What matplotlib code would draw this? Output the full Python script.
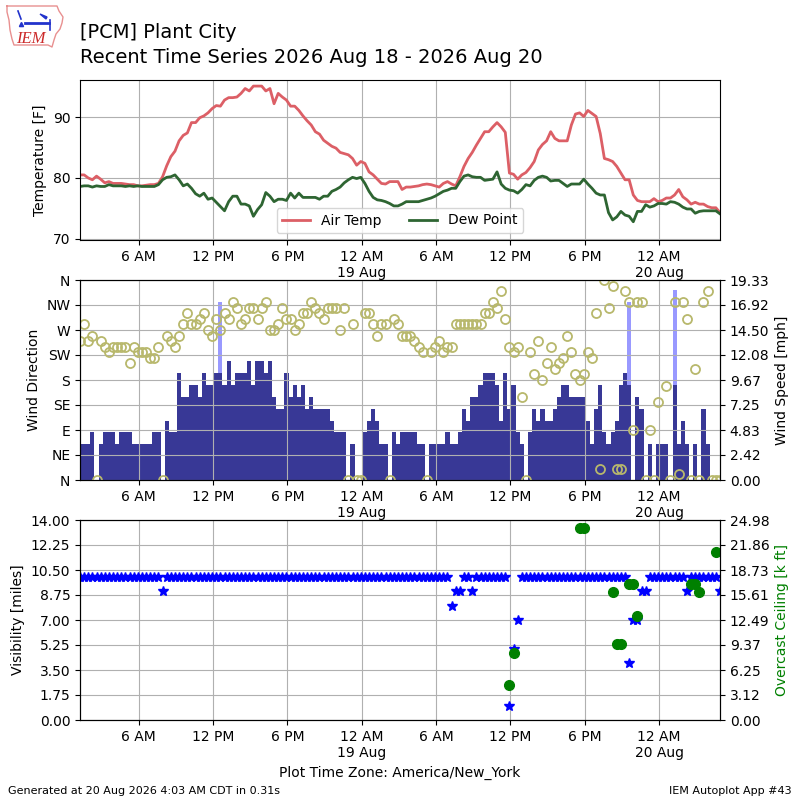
import numpy as np
import pandas as pd
import matplotlib
matplotlib.use("Agg")
import matplotlib.pyplot as plt
import matplotlib.dates as mdates

# observations every 20 minutes, 18 Aug 01:15 -> 20 Aug 04:55 (America/New_York)
obs_times = pd.date_range("2026-08-18 01:15", "2026-08-20 04:55", freq="20min")

air_temp = [
    80.5, 80.5, 80.0, 79.7, 80.3, 79.8, 79.2, 79.4, 79.1, 79.1,
    79.1, 79.0, 78.9, 78.9, 78.7, 78.7, 78.8, 78.9, 78.9, 79.1,
    80.2, 82.0, 83.5, 84.4, 86.1, 87.0, 87.4, 89.1, 89.1, 89.9,
    90.2, 90.7, 91.4, 91.9, 91.8, 92.8, 93.2, 93.2, 93.3, 93.9,
    94.7, 94.3, 95.1, 95.1, 95.1, 94.3, 94.7, 92.2, 93.9, 93.3,
    92.8, 91.8, 91.8, 91.1, 90.2, 89.4, 88.7, 87.6, 87.2, 86.2,
    85.7, 85.2, 84.9, 84.2, 84.0, 83.8, 83.2, 82.1, 82.7, 82.4,
    81.0, 80.5, 79.8, 79.1, 79.0, 79.4, 79.4, 79.4, 78.1, 78.5,
    78.5, 78.6, 78.7, 78.9, 79.0, 78.9, 78.7, 78.5, 79.1, 79.4,
    79.0, 78.7, 80.2, 81.9, 83.2, 84.2, 85.4, 86.5, 87.6, 87.6,
    88.4, 89.1, 88.4, 87.5, 80.8, 80.6, 79.8, 80.5, 80.9, 81.7,
    82.7, 84.6, 85.5, 86.1, 87.6, 86.5, 86.1, 86.1, 86.1, 88.7,
    90.5, 90.7, 90.1, 91.1, 90.6, 90.1, 87.3, 83.2, 83.0, 82.7,
    81.9, 80.8, 79.7, 79.7, 77.2, 76.3, 76.1, 76.1, 76.1, 76.6,
    76.1, 76.3, 76.7, 76.7, 77.2, 78.1, 76.9, 76.4, 75.7, 76.0,
    75.7, 75.7, 75.3, 75.1, 75.1, 74.3,
]
dew_point = [
    78.6, 78.7, 78.7, 78.5, 78.7, 78.6, 78.6, 78.9, 78.7, 78.7,
    78.7, 78.6, 78.7, 78.6, 78.7, 78.6, 78.6, 78.6, 78.6, 78.9,
    79.7, 80.1, 80.2, 80.5, 79.7, 78.7, 79.0, 78.3, 77.4, 77.0,
    77.5, 76.5, 76.7, 76.0, 75.3, 74.6, 76.1, 77.0, 77.0, 75.7,
    75.7, 75.4, 73.7, 74.8, 75.6, 77.6, 77.0, 76.1, 76.5, 76.5,
    76.3, 77.5, 76.7, 77.5, 76.8, 76.8, 76.8, 76.8, 76.5, 77.0,
    77.0, 77.8, 78.1, 78.5, 79.2, 79.7, 80.1, 79.9, 80.1, 79.1,
    77.8, 76.8, 76.4, 76.3, 76.1, 75.8, 75.4, 75.4, 75.7, 76.1,
    76.1, 76.1, 76.1, 76.3, 76.5, 76.7, 77.0, 77.4, 77.8, 78.0,
    78.3, 78.3, 79.4, 80.3, 80.5, 80.2, 80.1, 80.1, 79.6, 79.7,
    79.8, 81.0, 79.0, 78.3, 78.0, 77.9, 77.5, 78.1, 78.9, 78.7,
    79.6, 80.1, 80.3, 80.1, 79.5, 79.6, 79.6, 79.1, 78.6, 79.0,
    79.0, 79.0, 79.8, 79.0, 78.3, 77.5, 77.2, 77.2, 74.3, 73.1,
    73.6, 74.5, 73.9, 73.7, 72.8, 74.5, 74.5, 75.6, 75.2, 75.4,
    75.8, 75.8, 75.7, 76.1, 76.0, 75.7, 75.2, 74.9, 74.9, 74.2,
    74.5, 74.6, 74.6, 74.6, 74.6, 74.1,
]

# wind direction [deg], 0 = calm
wind_dir = [
    250, 280, 250, 260, 0, 250, 240, 230, 240, 240,
    240, 240, 210, 240, 230, 230, 230, 220, 220, 240,
    0, 260, 250, 240, 260, 280, 300, 280, 280, 290,
    300, 270, 260, 290, 270, 300, 290, 320, 310, 280,
    290, 310, 310, 290, 310, 320, 270, 270, 280, 310,
    290, 290, 270, 280, 300, 300, 320, 310, 300, 290,
    310, 310, 310, 270, 310, 0, 280, 0, 0, 300,
    300, 280, 260, 280, 280, 0, 290, 280, 260, 260,
    260, 250, 240, 230, 0, 230, 240, 250, 230, 240,
    240, 280, 280, 280, 280, 280, 280, 280, 300, 300,
    320, 310, 340, 290, 240, 230, 240, 150, 0, 230,
    190, 250, 180, 210, 240, 200, 210, 220, 260, 230,
    190, 180, 190, 230, 220, 300, 20, 360, 310, 350,
    20, 20, 340, 320, 90, 320, 320, 0, 90, 0,
    140, np.nan, 170, 0, 320, 10, 320, 290, 0, 200,
    0, 320, 340, 0, 0, 0,
]
# wind speed [knots]
wind_kt = [
    3, 3, 3, 4, 0, 3, 4, 4, 4, 3,
    4, 4, 4, 3, 3, 3, 3, 3, 4, 4,
    0, 5, 4, 4, 9, 7, 7, 8, 8, 7,
    9, 8, 8, 9, 9, 8, 10, 8, 9, 9,
    9, 10, 8, 10, 10, 9, 10, 7, 6, 6,
    9, 7, 8, 7, 8, 6, 7, 6, 6, 6,
    6, 5, 4, 4, 4, 0, 3, 0, 0, 4,
    5, 6, 5, 3, 3, 0, 4, 3, 4, 4,
    4, 4, 3, 3, 0, 3, 3, 3, 3, 4,
    3, 3, 4, 6, 5, 7, 7, 8, 9, 9,
    9, 8, 5, 9, 6, 8, 4, 3, 0, 4,
    6, 5, 6, 5, 5, 6, 7, 8, 8, 7,
    7, 7, 7, 5, 3, 6, 8, 4, 3, 4,
    5, 8, 9, 8, 0, 7, 6, 0, 3, 0,
    3, 3, 3, 0, 8, 3, 5, 3, 0, 3,
    0, 6, 3, 0, 0, 0,
]
gust_times = ["2026-08-18 12:35", "2026-08-19 21:35", "2026-08-20 01:15"]
gust_kt = [15, 15, 16]

visibility = [
    10, 10, 10, 10, 10, 10, 10, 10, 10, 10,
    10, 10, 10, 10, 10, 10, 10, 10, 10, 10,
    9, 10, 10, 10, 10, 10, 10, 10, 10, 10,
    10, 10, 10, 10, 10, 10, 10, 10, 10, 10,
    10, 10, 10, 10, 10, 10, 10, 10, 10, 10,
    10, 10, 10, 10, 10, 10, 10, 10, 10, 10,
    10, 10, 10, 10, 10, 10, 10, 10, 10, 10,
    10, 10, 10, 10, 10, 10, 10, 10, 10, 10,
    10, 10, 10, 10, 10, 10, 10, 10, 10, 10,
    8, 9, 9, 10, 10, 9, 10, 10, 10, 10,
    10, 10, 10, 10, 1, 5, 7, 10, 10, 10,
    10, 10, 10, 10, 10, 10, 10, 10, 10, 10,
    10, 10, 10, 10, 10, 10, 10, 10, 10, 10,
    10, 10, 10, 4, 7, 7, 9, 9, 10, 10,
    10, 10, 10, 10, 10, 10, 10, 9, 10, 10,
    10, 10, 10, 10, 10, 9,
]
ceiling_times = ["2026-08-19 11:55", "2026-08-19 12:15", "2026-08-19 17:35",
                 "2026-08-19 17:55", "2026-08-19 20:15", "2026-08-19 20:35",
                 "2026-08-19 20:55", "2026-08-19 21:35", "2026-08-19 21:55",
                 "2026-08-19 22:15", "2026-08-20 02:35", "2026-08-20 02:55",
                 "2026-08-20 03:15", "2026-08-20 04:35"]
ceiling_kft = [4.4, 8.4, 24.0, 24.0, 16.0, 9.5, 9.5, 17.0, 17.0, 13.0,
               17.0, 17.0, 16.0, 21.0]

tick_times = pd.date_range("2026-08-18 06:00", "2026-08-20 00:00", freq="6h")
tick_labels = ["6 AM", "12 PM", "6 PM", "12 AM\n19 Aug",
               "6 AM", "12 PM", "6 PM", "12 AM\n20 Aug"]
dir_labels = ["N", "NE", "E", "SE", "S", "SW", "W", "NW", "N"]

x = mdates.date2num(obs_times.to_pydatetime())
xg = mdates.date2num(pd.to_datetime(gust_times).to_pydatetime())
xc = mdates.date2num(pd.to_datetime(ceiling_times).to_pydatetime())
xt = mdates.date2num(tick_times.to_pydatetime())
slot = 20.0 / 1440.0
KT2MPH = 1.15
SPD_MAX = 19.333
CIG_MAX = 24.98

fig = plt.figure(figsize=(8, 8), dpi=100)

# titulo
fig.text(0.1, 0.953, "[PCM] Plant City", fontsize=14)
fig.text(0.1, 0.921, "Recent Time Series 2026 Aug 18 - 2026 Aug 20", fontsize=14)
fig.text(0.01, 0.008, "Generated at 20 Aug 2026 4:03 AM CDT in 0.31s", fontsize=8)
fig.text(0.99, 0.008, "IEM Autoplot App #43", fontsize=8, ha="right")

# logo (aproximado), coordenadas en pixeles
logo = fig.add_axes([0, 1 - 55 / 800, 75 / 800, 55 / 800])
logo.set_xlim(0, 75)
logo.set_ylim(55, 0)
logo.axis("off")
iowa_x = [7, 57, 59, 63, 62, 60, 56, 54, 52, 48, 14, 12, 10, 9, 7, 7]
iowa_y = [6, 6, 11, 17, 23, 29, 34, 40, 47, 45, 45, 39, 30, 20, 12, 6]
logo.plot(iowa_x, iowa_y, color="#e89090", lw=1)
logo.plot([25, 49], [23, 23], color="#2233cc", lw=2)
logo.plot([18, 21], [11, 19], color="#2233cc", lw=1.2)
logo.fill([40, 47, 46], [14, 17, 19], color="#2233cc")
logo.plot([50, 50], [20, 30], color="#2233cc", lw=1.2)
logo.plot([21], [24], "^", color="#2233cc", ms=3)
logo.text(16, 43, "IEM", fontsize=12, color="#cc2a2a", style="italic",
          family="Liberation Serif")


def style_x(ax):
    ax.set_xlim(x[0], x[-1])
    ax.set_xticks(xt)
    ax.set_xticklabels(tick_labels)
    ax.grid(True, color="#b0b0b0")


# temperatura
ax1 = fig.add_axes([0.1, 0.7, 0.8, 0.2])
ax1.plot(x, air_temp, color="#dc5f66", lw=2, label="Air Temp")
ax1.plot(x, dew_point, color="#2e6532", lw=2, label="Dew Point")
ax1.set_ylim(69.8, 96.1)
ax1.set_yticks([70, 80, 90])
ax1.set_ylabel("Temperature [F]")
style_x(ax1)
ax1.legend(loc="lower center", ncol=2)

# viento
ax2 = fig.add_axes([0.1, 0.4, 0.8, 0.25])
ax2b = ax2.twinx()
ax2b.bar(xg, np.array(gust_kt) * KT2MPH, width=slot, color="#9999ff")
ax2b.bar(x, np.array(wind_kt) * KT2MPH, width=slot, color="#383896")
ax2b.set_ylim(0, SPD_MAX)
ax2b.set_yticks(np.linspace(0, SPD_MAX, 9))
ax2b.set_yticklabels(["%.2f" % v for v in np.linspace(0, SPD_MAX, 9)])
ax2b.set_ylabel("Wind Speed [mph]")
ax2.set_zorder(ax2b.get_zorder() + 1)
ax2.patch.set_visible(False)
ax2.plot(x, wind_dir, "o", mfc="none", mec="#b8b86c", ms=6.5, mew=1.3)
ax2.set_ylim(0, 360)
ax2.set_yticks(np.arange(0, 361, 45))
ax2.set_yticklabels(dir_labels)
ax2.set_ylabel("Wind Direction")
style_x(ax2)

# visibilidad / techo
ax3 = fig.add_axes([0.1, 0.1, 0.8, 0.25])
ax3.plot(x, visibility, "*", color="blue", ms=7.5)
ax3.set_ylim(0, 14)
ax3.set_yticks(np.linspace(0, 14, 9))
ax3.set_yticklabels(["%.2f" % v for v in np.linspace(0, 14, 9)])
ax3.set_ylabel("Visibility [miles]")
style_x(ax3)
ax3.set_xlabel("Plot Time Zone: America/New_York")
ax3b = ax3.twinx()
ax3b.plot(xc, ceiling_kft, "o", color="green", ms=7)
ax3b.set_ylim(0, CIG_MAX)
ax3b.set_yticks(np.linspace(0, CIG_MAX, 9))
ax3b.set_yticklabels(["%.2f" % v for v in np.linspace(0, CIG_MAX, 9)])
ax3b.set_ylabel("Overcast Ceiling [k ft]", color="green")
ax3b.set_xlim(x[0], x[-1])

fig.savefig("out.png", dpi=100)
